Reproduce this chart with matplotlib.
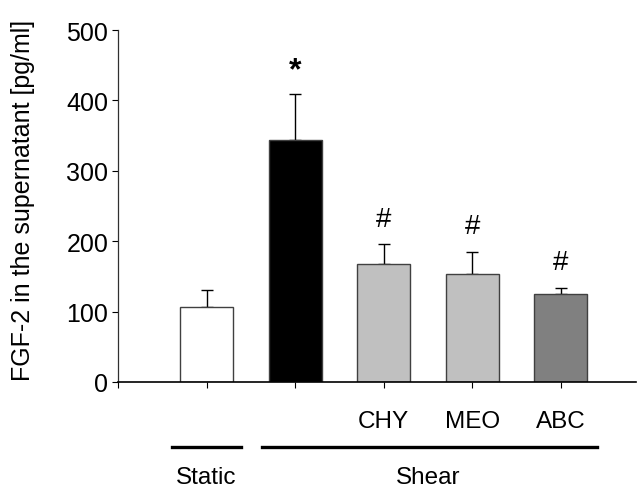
import matplotlib
matplotlib.use("Agg")
import matplotlib.pyplot as plt
import matplotlib.transforms as mtransforms

plt.rcParams['font.family'] = ['Liberation Sans', 'DejaVu Sans']

# data
groups = ['Static', 'Shear', 'CHY', 'MEO', 'ABC']
tick_labels = ['', '', '', 'CHY', 'MEO', 'ABC']
means = [106.5, 344, 167.5, 153, 125]
errors = [24, 65, 28, 32, 8]
colors = ['white', 'black', '#c0c0c0', '#c0c0c0', '#808080']
marks = ['', '*', '#', '#', '#']
mark_y = [0, 443, 231, 222, 170]

fig = plt.figure(figsize=(6.38, 4.89), dpi=100)
ax = fig.add_axes([0.185, 0.2168, 0.812, 0.7198])

x = list(range(len(means)))
ax.bar(x, means, width=0.6, color=colors, edgecolor='#404040', linewidth=1, zorder=2)
ax.errorbar(x, means, yerr=[[0]*len(errors), errors], fmt='none', ecolor='black',
            elinewidth=1, capsize=4.5, capthick=1, zorder=1)

for xi, m, my in zip(x, marks, mark_y):
    if m:
        ax.text(xi, my, m, ha='center', va='center', fontsize=23 if m == '*' else 20,
                fontweight='bold' if m == '*' else 'normal')

ax.set_xlim(-1, 4.85)
ax.set_ylim(0, 500)
ax.set_yticks([0, 100, 200, 300, 400, 500])
ax.set_xticks([-1, 0, 1, 2, 3, 4])
ax.set_xticklabels(tick_labels)
ax.tick_params(axis='x', length=4, width=0.8, pad=16, labelsize=17.5)
ax.tick_params(axis='y', length=4, width=0.8, labelsize=18, pad=3)
ax.spines['top'].set_visible(False)
ax.spines['right'].set_visible(False)
ax.spines['left'].set_linewidth(0.9)
ax.spines['bottom'].set_linewidth(1.2)
ax.spines['left'].set_color('#303030')
ax.set_ylabel('FGF-2 in the supernatant [pg/ml]', fontsize=18)
ax.yaxis.set_label_coords(-0.16, 0.52)

# group brackets under the axis
trans = mtransforms.blended_transform_factory(ax.transData, ax.transAxes)
ax.plot([-0.39, 0.39], [-0.185, -0.185], color='black', lw=2.4, transform=trans, clip_on=False)
ax.plot([0.63, 4.41], [-0.185, -0.185], color='black', lw=2.4, transform=trans, clip_on=False)
ax.text(0, -0.27, 'Static', ha='center', va='center', fontsize=17.5, transform=trans)
ax.text(2.5, -0.27, 'Shear', ha='center', va='center', fontsize=17.5, transform=trans)

fig.savefig('out.png', dpi=100)
